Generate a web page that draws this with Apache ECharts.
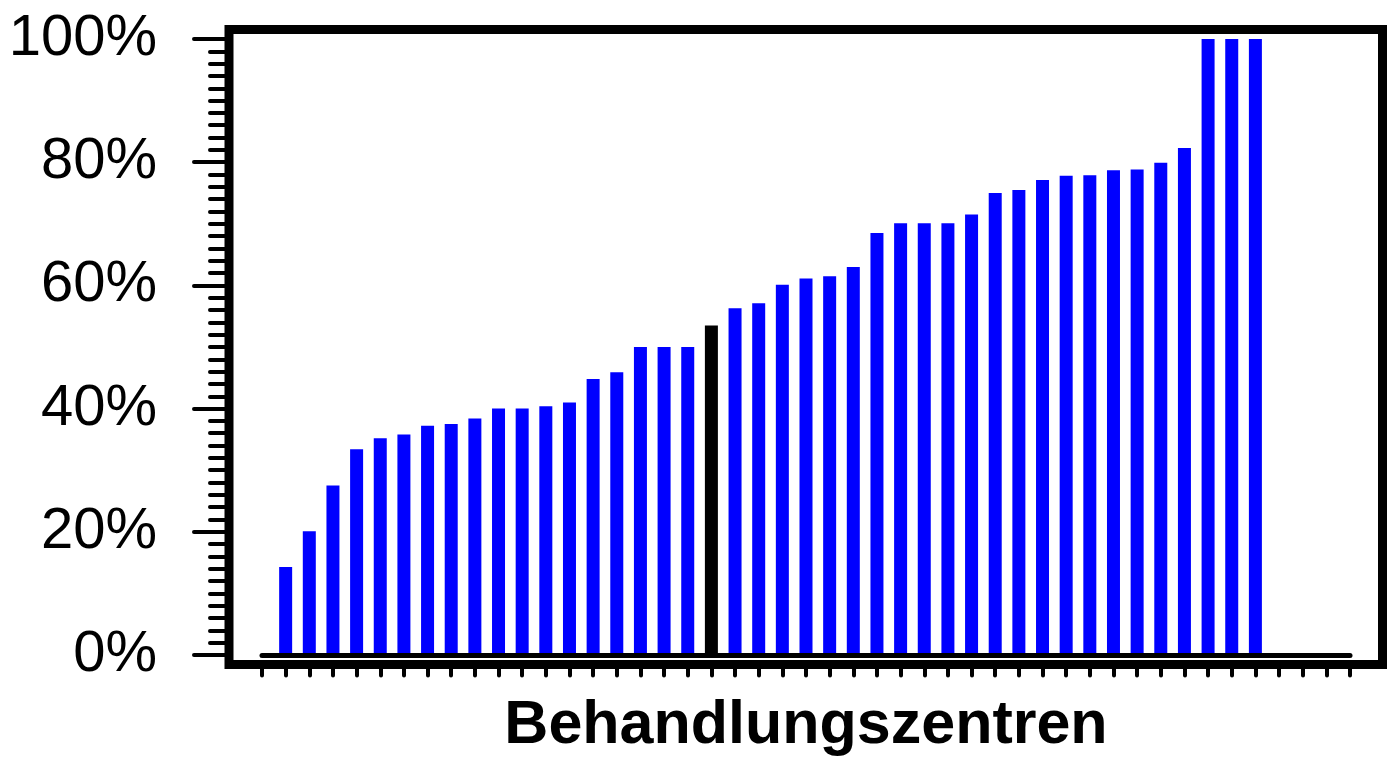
<!DOCTYPE html>
<html>
<head>
<meta charset="utf-8">
<script src="https://cdn.jsdelivr.net/npm/echarts@6/dist/echarts.min.js"></script>
<style>
  html, body { margin: 0; padding: 0; background: #fff; }
  #chart { width: 1392px; height: 757px; }
</style>
</head>
<body>
<div id="chart"></div>
<script>
// share per treatment centre (%), sorted ascending
var values = [
  14.3, 20.1, 27.5, 33.4, 35.2, 35.8, 37.2, 37.5, 38.4, 40.0,
  40.0, 40.4, 41.0, 44.8, 45.9, 50.0, 50.0, 50.0, 53.5, 56.3,
  57.1, 60.1, 61.1, 61.5, 63.0, 68.5, 70.1, 70.1, 70.1, 71.5,
  75.0, 75.5, 77.1, 77.8, 77.9, 78.7, 78.8, 79.9, 82.3, 100,
  100, 100
];
// the own centre is drawn black
var highlight = 19;
var yTicks = [0, 20, 40, 60, 80, 100];
var xTitle = 'Behandlungszentren';

var centres = values.map(function (v, i) { return i + 1; });
var font = '"Liberation Sans", Arial, sans-serif';

var chart = echarts.init(document.getElementById('chart'));
chart.setOption({
  animation: false,
  backgroundColor: '#fff',
  grid: [
    // frame
    { left: 229, top: 29.5, right: 9.5, bottom: 92.5, show: true, outerBoundsMode: 'none',
      borderColor: '#000', borderWidth: 9, backgroundColor: 'transparent' },
    // data area
    { left: 262, top: 39, right: 42, bottom: 102, outerBoundsMode: 'none' }
  ],
  xAxis: [
    { gridIndex: 1, type: 'value', position: 'bottom', min: 0, max: 46, z: 5,
      axisLine: { show: true, onZero: false, lineStyle: { color: '#000', width: 5, cap: 'round' } },
      axisTick: { show: false }, axisLabel: { show: false }, splitLine: { show: false } },
    { gridIndex: 1, type: 'value', position: 'bottom', min: 0, max: 46, interval: 1, offset: 9.5,
      axisLine: { show: false, onZero: false },
      axisTick: { show: true, length: 11, lineStyle: { color: '#000', width: 4, cap: 'round' } },
      axisLabel: { show: false }, splitLine: { show: false },
      name: xTitle, nameLocation: 'middle', nameGap: 31,
      nameTextStyle: { fontFamily: font, fontSize: 61, fontWeight: 'bold', color: '#000' } },
    { gridIndex: 0, type: 'value', show: false }
  ],
  yAxis: [
    { gridIndex: 1, type: 'value', position: 'left', min: yTicks[0], max: yTicks[yTicks.length - 1],
      interval: yTicks[1] - yTicks[0], offset: 33,
      axisLine: { show: false, onZero: false },
      axisTick: { show: true, length: 35, lineStyle: { color: '#000', width: 4, cap: 'round' } },
      minorTick: { show: true, splitNumber: 10, length: 19,
        lineStyle: { color: '#000', width: 4, cap: 'round' } },
      axisLabel: { margin: 72, fontFamily: font, fontSize: 58, color: '#000',
        formatter: '{value}%' },
      splitLine: { show: false }, minorSplitLine: { show: false } },
    { gridIndex: 0, type: 'value', show: false }
  ],
  series: [{
    type: 'bar',
    xAxisIndex: 0,
    yAxisIndex: 0,
    barWidth: 13,
    data: values.map(function (v, i) {
      return {
        value: [centres[i], v],
        itemStyle: { color: centres[i] === highlight ? '#000000' : '#0000ff' }
      };
    })
  }]
});
</script>
</body>
</html>
